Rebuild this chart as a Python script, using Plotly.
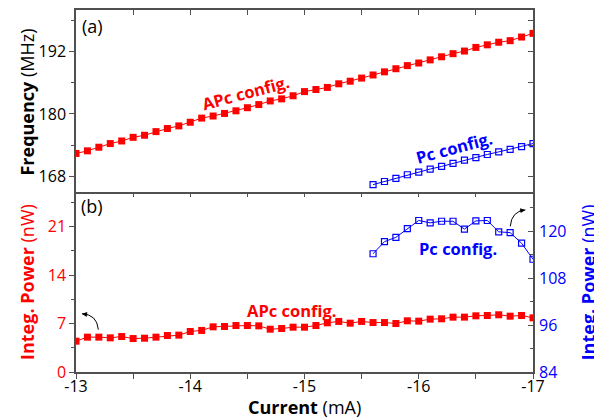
import plotly.graph_objects as go

# ---- data ----
current = [-13.0 - 0.1 * i for i in range(41)]
current = [round(c, 1) for c in current]
freq_apc = [172.4, 172.9, 173.6, 174.3, 174.8, 175.5, 175.9, 176.6, 177.2, 177.7,
            178.4, 179.2, 179.6, 180.1, 180.6, 181.2, 181.8, 182.5, 182.9, 183.5,
            184.3, 184.7, 185.1, 185.8, 186.3, 186.9, 187.5, 188.1, 188.7, 189.3,
            189.8, 190.4, 191.0, 191.6, 192.1, 192.8, 193.3, 193.8, 194.1, 194.8, 195.5]
current_pc = [-15.6, -15.7, -15.8, -15.9, -16.0, -16.1, -16.2, -16.3, -16.4, -16.5,
              -16.6, -16.7, -16.8, -16.9, -17.0]
freq_pc = [166.4, 167.0, 167.6, 168.3, 168.8, 169.4, 169.9, 170.5, 171.1, 171.6,
           172.2, 172.7, 173.2, 173.7, 174.3]
power_apc = [4.45, 5.03, 5.03, 4.93, 5.12, 4.83, 4.88, 5.03, 5.27, 5.32,
             5.85, 6.0, 6.52, 6.57, 6.71, 6.71, 6.66, 6.18, 6.28, 6.47,
             6.47, 6.71, 7.1, 7.3, 7.05, 7.3, 7.14, 7.14, 7.0, 7.39,
             7.34, 7.63, 7.68, 7.92, 7.92, 8.11, 8.16, 8.26, 8.06, 8.16, 7.82]
power_pc = [114.2, 117.3, 118.4, 120.6, 122.7, 122.1, 122.5, 122.5, 120.5, 122.6,
            122.7, 119.8, 119.6, 116.9, 112.8]
x_tickvals = [-13, -14, -15, -16, -17]
x_ticktext = ["-13", "-14", "-15", "-16", "-17"]

RED = "#ff0000"
BLUE = "#0000ff"
AX = "#505050"
FONT = "Open Sans"

fig = go.Figure()
fig.add_trace(go.Scatter(x=current, y=freq_apc, xaxis="x", yaxis="y", mode="lines+markers",
                         line=dict(color=RED, width=1),
                         marker=dict(symbol="square", size=7, color=RED), showlegend=False))
fig.add_trace(go.Scatter(x=current_pc, y=freq_pc, xaxis="x", yaxis="y", mode="lines+markers",
                         line=dict(color=BLUE, width=1),
                         marker=dict(symbol="square-open", size=6, color=BLUE, line=dict(width=1.2)),
                         showlegend=False))
fig.add_trace(go.Scatter(x=current, y=power_apc, xaxis="x2", yaxis="y2", mode="lines+markers",
                         line=dict(color=RED, width=1),
                         marker=dict(symbol="square", size=7, color=RED), showlegend=False))
fig.add_trace(go.Scatter(x=current_pc, y=power_pc, xaxis="x2", yaxis="y3", mode="lines+markers",
                         line=dict(color=BLUE, width=1),
                         marker=dict(symbol="square-open", size=6, color=BLUE, line=dict(width=1.2)),
                         showlegend=False))

split = 0.4975
common = dict(showgrid=False, zeroline=False, linecolor=AX, linewidth=1.5, tickcolor=AX,
              tickwidth=1, automargin=False)

# page body has an 8px default margin, so margins compensate for it
fig.update_layout(
    width=602, height=420,
    margin=dict(l=68, r=77, t=2, b=56),
    paper_bgcolor="white", plot_bgcolor="white",
    font=dict(family=FONT, size=16, color="black"),
    xaxis=dict(**common, domain=[0, 1], anchor="y", range=[-13, -17], side="top",
               showline=True, mirror=True, ticks="inside", ticklen=5, dtick=0.5, tick0=-13,
               showticklabels=False),
    xaxis2=dict(**common, domain=[0, 1], anchor="y2", range=[-13, -17], side="bottom",
                showline=True, mirror=False, ticks="outside", ticklen=5,
                tickvals=x_tickvals, ticktext=x_ticktext, ticklabelstandoff=-6,
                minor=dict(dtick=0.5, tick0=-13, ticks="outside", ticklen=5, tickcolor=AX),
                tickfont=dict(size=16, color="black")),
    xaxis3=dict(**common, overlaying="x2", anchor="y2", range=[-13, -17], side="top",
                showline=False, ticks="inside", ticklen=5, dtick=0.5, tick0=-13,
                showticklabels=False),
    yaxis=dict(**common, domain=[split, 1], anchor="x", range=[165, 200], side="left",
               showline=True, mirror=True, ticks="outside", ticklen=5, dtick=12, tick0=168,
               minor=dict(dtick=6, tick0=168, ticks="outside", ticklen=3, tickcolor=AX),
               tickfont=dict(size=16, color="black")),
    yaxis4=dict(**common, overlaying="y", anchor="x", range=[165, 200], side="right",
                showline=False, ticks="inside", ticklen=5, dtick=6, tick0=168,
                showticklabels=False),
    yaxis2=dict(**common, domain=[0, split], anchor="x2", range=[0, 26], side="left",
                showline=True, mirror=True, ticks="outside", ticklen=5, dtick=7, tick0=0,
                minor=dict(dtick=3.5, tick0=0, ticks="outside", ticklen=3, tickcolor=AX),
                tickfont=dict(size=16, color=RED)),
    yaxis3=dict(**common, overlaying="y2", anchor="x2", range=[84, 130], side="right",
                showline=False, ticks="inside", ticklen=5, dtick=12, tick0=84,
                ticklabelstandoff=5,
                minor=dict(dtick=6, tick0=84, ticks="inside", ticklen=3, tickcolor=AX),
                tickfont=dict(size=16, color=BLUE)),
)
# invisible helper traces so the overlay axes are drawn
fig.add_trace(go.Scatter(x=[-13], y=[165], xaxis="x", yaxis="y4", mode="markers",
                         marker=dict(opacity=0), showlegend=False, hoverinfo="skip"))
fig.add_trace(go.Scatter(x=[-13], y=[0], xaxis="x3", yaxis="y2", mode="markers",
                         marker=dict(opacity=0), showlegend=False, hoverinfo="skip"))

C = dict(xanchor="center", yanchor="middle", showarrow=False)
ann = []
ann.append(dict(text="<b>Frequency</b> (MHz)", xref="paper", yref="paper", x=-0.1073, y=0.747,
                textangle=-90, font=dict(size=18, color="black"), **C))
ann.append(dict(text="<b>Integ. Power</b> (nW)", xref="paper", yref="paper", x=-0.1073, y=0.2485,
                textangle=-90, font=dict(size=18, color=RED), **C))
ann.append(dict(text="<b>Integ. Power</b> (nW)", xref="paper", yref="paper", x=1.121, y=0.2485,
                textangle=-90, font=dict(size=18, color=BLUE), **C))
ann.append(dict(text="<b>Current</b> (mA)", xref="paper", yref="paper", x=0.501, y=-0.0975,
                font=dict(size=18, color="black"), **C))
ann.append(dict(text="(a)", xref="x", yref="y", x=-13.14, y=196.9,
                font=dict(size=18, color="black"), **C))
ann.append(dict(text="(b)", xref="x2", yref="y2", x=-13.14, y=23.9,
                font=dict(size=18, color="black"), **C))
ann.append(dict(text="<b>APc config.</b>", xref="x", yref="y", x=-14.49, y=184.1,
                textangle=-15, font=dict(size=16.5, color=RED), **C))
ann.append(dict(text="<b>Pc config.</b>", xref="x", yref="y", x=-16.31, y=173.6,
                textangle=-15, font=dict(size=16.5, color=BLUE), **C))
ann.append(dict(text="<b>APc config.</b>", xref="x2", yref="y2", x=-14.89, y=8.94,
                font=dict(size=16.5, color=RED), **C))
ann.append(dict(text="<b>Pc config.</b>", xref="x2", yref="y3", x=-16.34, y=115.5,
                font=dict(size=16.5, color=BLUE), **C))
# arrowheads
ann.append(dict(text="", xref="paper", yref="paper", x=0.0131, y=0.1607, ax=7, ay=1,
                showarrow=True, arrowhead=2, arrowsize=1, arrowwidth=1, arrowcolor="black"))
ann.append(dict(text="", xref="paper", yref="paper", x=0.9832, y=0.4478, ax=-7, ay=1,
                showarrow=True, arrowhead=2, arrowsize=1, arrowwidth=1, arrowcolor="black"))
fig.update_layout(annotations=ann)

fig.update_layout(shapes=[
    dict(type="path", xref="paper", yref="paper",
         path="M 0.0489 0.1170 Q 0.046 0.1593 0.0131 0.1607",
         line=dict(color="black", width=1)),
    dict(type="path", xref="paper", yref="paper",
         path="M 0.9503 0.4023 Q 0.9525 0.4437 0.9832 0.4478",
         line=dict(color="black", width=1)),
])

fig.write_html("out.html")
